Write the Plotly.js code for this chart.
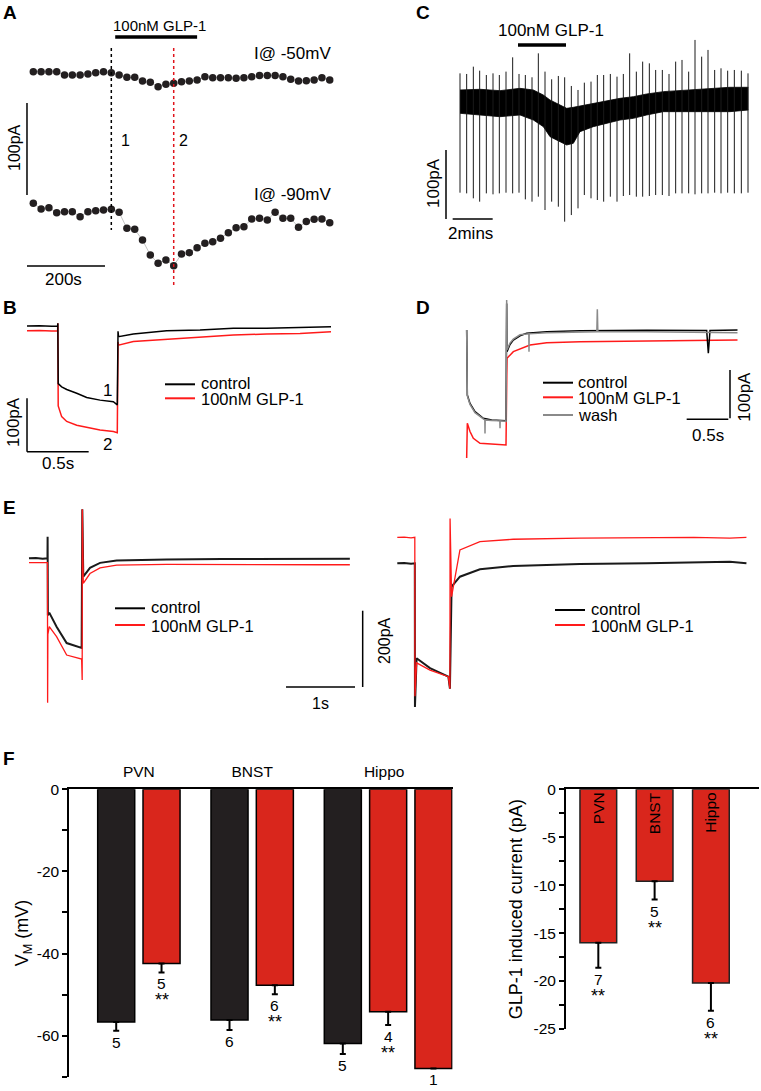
<!DOCTYPE html>
<html>
<head>
<meta charset="utf-8">
<script src="https://cdn.plot.ly/plotly-3.0.1.min.js"></script>
<style>
  html, body { margin: 0; padding: 0; background: #fff; }
  #fig { width: 761px; height: 1091px; }
</style>
</head>
<body>
<div id="fig"></div>
<script>
const W = 761, H = 1091;
const FONT = 'Arial, "Liberation Sans", sans-serif';
const RED = '#ff1a1a';
const DARK = '#231f20';

// A: holding current sampled every 20 s (pA, relative)
const timeA = [0, 20, 40, 60, 80, 100, 120, 140, 160, 180, 200, 220, 240, 260, 280, 300, 320, 340, 360, 380,
    400, 420, 440, 460, 480, 500, 520, 540, 560, 580, 600, 620, 640, 660, 680, 700, 720, 740, 760];
const currentAt50 = [0, 0, 0, 0, -3.6, -3.6, -3.6, -2.5, -1.1, 0, -1.1, -3.6, -6.2, -6.2, -10.1, -11.6, -16.3, -13.8, -12.7, -10.9,
    -10.1, -9.1, -5.4, -6.5, -6.5, -6.5, -7.2, -6.5, -5.4, -4.3, -4.3, -4.3, -5.4, -8.3, -10.1, -9.8, -9.1, -6.5, -9.1];
const currentAt90 = [-143.1, -149.3, -147.8, -153.3, -152.2, -152.2, -157.6, -152.2, -151.1, -150.4, -149.6, -152.9, -170.3, -171.4, -183.0, -199.3, -208.3, -204.7, -210.9, -198.2,
    -196.7, -191.3, -186.6, -184.8, -181.2, -175.0, -169.6, -168.5, -160.1, -159.4, -161.2, -152.9, -159.4, -159.4, -169.2, -163.0, -160.5, -160.1, -164.1];
const drugA = [210, 420];
const markA = [200, 360];

// C: continuous recording (s, pA)
const spikeTime = [0, 20, 40, 59, 79, 99, 118, 138, 158, 177, 196, 216, 235, 255, 275, 295, 314, 334, 354, 373, 393, 412, 431,
    451, 471, 490, 509, 529, 548, 568, 587, 607, 627, 647, 666, 686, 705, 725, 744, 764, 783, 803, 823, 844, 864];
const spikeTop = [38.6, 37.7, 48.3, 42.5, 36.2, 38.6, 36.2, 41.1, 61.8, 37.7, 36.2, 32.9, 67.6, 41.1, 30, 34.8, 32.9, 20.3, 14.5, 25.1, 26.6, 36.2, 36.2,
    37.7, 33.8, 37.7, 67.6, 41.1, 55.6, 53.1, 43.5, 43.5, 37.7, 55.6, 58, 41.1, 87, 62.8, 72.5, 43.5, 45.9, 42.5, 43.5, 42.5, 38.6];
const spikeBottom = [-134.3, -135.3, -142.5, -147.3, -135.3, -136.7, -135.3, -134.3, -135.3, -134.3, -144, -147.3, -140.1, -159.4, -147.3, -154.6, -176.3, -166.7, -157, -137.7, -142.5, -144.9, -147.3,
    -140.1, -147.3, -139.1, -137.7, -140.1, -140.1, -139.1, -137.7, -137.7, -139.1, -135.3, -135.3, -135.3, -136.7, -135.3, -135.3, -134.3, -135.3, -134.3, -135.3, -135.3, -134.3];
const bandTime = [0, 60, 120, 180, 220, 250, 270, 300, 320, 340, 360, 400, 440, 480, 520, 560, 610, 660, 710, 760, 810, 865];
const bandTop = [14.5, 15.5, 13.5, 16.9, 14.5, 7.2, 0, -7.2, -12.1, -10.6, -8.7, -5.8, -1, 2.4, 4.8, 8.7, 12.1, 13.5, 15.5, 16.9, 18.4, 18.4];
const bandBottom = [-19.3, -21.7, -24.2, -21.7, -29, -38.6, -53.1, -60.4, -65.2, -62.8, -45.9, -38.6, -33.8, -29, -26.6, -21.7, -16.9, -16.9, -16.9, -16.9, -16.9, -14.5];
const drugC = [174, 318];

// B: step responses (s, pA)
const timeB = [0, 0.1, 0.2, 0.248, 0.25, 0.253, 0.281, 0.322, 0.403, 0.484, 0.592, 0.7, 0.732, 0.738, 0.742, 0.862, 1.132, 1.403, 1.673, 1.943, 2.214, 2.465];
const controlB = [0, 0.5, -0.5, 0, 5, -108, -114, -119, -126, -134, -139, -142, -148, -10, -20, -15, -8.8, -7.5, -4.4, -4.4, -2.5, -1.3];
const glpB = [-9, -8.5, -9.5, -9, 5, -150, -170, -179, -186, -190, -195, -198, -200, -30, -36, -29, -25, -20, -17, -15, -14, -11];

// D
const timeDc = [0, 0.008, 0.04, 0.1, 0.2, 0.3, 0.472, 0.48, 0.484, 0.52, 0.56, 0.64, 0.72, 0.96, 1.36, 2.16, 2.88, 2.9, 2.92, 3.25];
const controlD = [0, -134.5, -152, -169, -182.8, -186, -187.6, 55, -44.8, -30, -20.7, -12, -6.9, -3.4, -1.4, -0.7, -1, -48, -1, 0];
const timeDw = [0, 0.008, 0.04, 0.1, 0.2, 0.218, 0.22, 0.222, 0.3, 0.398, 0.4, 0.402, 0.472, 0.48, 0.484, 0.52, 0.56, 0.64, 0.72,
    0.746, 0.748, 0.75, 0.96, 1.36, 1.562, 1.568, 1.574, 2.16, 3.25];
const washD = [0, -136, -154, -171, -184, -186, -214, -186, -187, -188, -203, -188, -189, 62, -41, -27, -19, -10, -8,
    -8, -45, -8, -5.5, -3.4, -3.4, 42.8, -3.4, -3.4, -5.5];
const timeDg = [0, 0.008, 0.04, 0.08, 0.16, 0.3, 0.472, 0.484, 0.56, 0.76, 0.96, 1.36, 2.16, 2.9, 3.25];
const glpD = [-265, -193, -210, -224, -234.5, -236, -238, -58.6, -44.8, -31, -26.2, -24.1, -22, -21, -20.7];

// E left
const timeEc = [0, 0.1, 0.2, 0.268, 0.27, 0.274, 0.294, 0.4, 0.546, 0.68, 0.763, 0.773, 0.787, 0.884, 1.03, 1.27, 1.995, 2.8, 3.44, 4.2, 4.65];
const controlE = [0, 1, -1, 0, 56.8, -150, -143, -180, -223, -232, -236, 129, -48.4, -25, -12, -6, -3, -2, -2, -1, -1];
const timeEg = [0, 0.1, 0.2, 0.268, 0.27, 0.274, 0.294, 0.4, 0.546, 0.68, 0.763, 0.771, 0.773, 0.787, 0.884, 1.03, 1.27, 1.995, 2.8, 3.44, 4.2, 4.65];
const glpE = [-11.6, -11, -12, -11.6, -380, -200, -180, -206, -254.5, -262, -265, -320, 129, -65.8, -40, -25, -18, -16, -17, -16, -17, -17];

// E right
const timeRc = [0, 0.1, 0.2, 0.254, 0.256, 0.28, 0.474, 0.74, 0.763, 0.787, 0.908, 1.198, 1.68, 2.647, 3.613, 4.3, 4.82, 5.06];
const controlR = [0, 1, -1, 0, -378, -250, -276, -298.4, -330, -61.6, -35.3, -15.8, -7.1, -2, 0, 3, 4.2, 0];
const timeRg = [0, 0.1, 0.2, 0.254, 0.256, 0.28, 0.474, 0.74, 0.763, 0.765, 0.787, 0.908, 1.198, 1.68, 2.647, 3.613, 4.3, 4.82, 5.06];
const glpR = [68.4, 69, 67, 68.4, -350, -262, -281, -298.4, -330, 118, -87.9, 35, 56.8, 63.2, 66, 67, 68, 66, 68.4];

// F
const regions = ['PVN', 'BNST', 'Hippo'];
const vmControl = [-56.7, -56.2, -61.9];
const vmControlSem = [2.1, 2.4, 2.6];
const vmControlN = ['5', '6', '5'];
const vmGlp = [-42.4, -47.7, -54.2, -68.0];
const vmGlpSem = [2.2, 2.2, 3.2, 0];
const vmGlpN = ['5', '6', '4', '1'];
const vmGlpSig = ['**', '**', '**', ''];
const glpCurrent = [-16.0, -9.6, -20.2];
const glpCurrentSem = [2.6, 1.9, 2.9];
const glpCurrentN = ['7', '5', '6'];
const vmTicks = [0, -20, -40, -60];
const currentTicks = [0, -5, -10, -15, -20, -25];

const fx = (a, b) => [a / W, b / W];
const fy = (top, bottom) => [1 - bottom / H, 1 - top / H];
const hidden = (domain, range, anchor) => ({domain, range, anchor, visible: false, fixedrange: true});

function label(x, y, text, size, extra) {
    return Object.assign({
        xref: 'paper', yref: 'paper', x: x / W, y: 1 - y / H, text, showarrow: false,
        xanchor: 'center', yanchor: 'middle', font: {family: FONT, size, color: '#000'},
    }, extra || {});
}
function sample(x0, x1, y, color) {
    return {type: 'line', xref: 'paper', yref: 'paper', x0: x0 / W, x1: x1 / W, y0: 1 - y / H, y1: 1 - y / H,
        line: {color, width: 2}};
}
function seg(ax, x0, y0, x1, y1, width, color, dash) {
    return {type: 'line', xref: 'x' + ax, yref: 'y' + ax, x0, y0, x1, y1, layer: 'above',
        line: {color: color || '#000', width: width || 1.5, dash: dash || 'solid'}};
}
function trace(ax, x, y, color, width) {
    return {x, y, xaxis: 'x' + ax, yaxis: 'y' + ax, mode: 'lines', line: {color, width: width || 1.5}, hoverinfo: 'skip'};
}

const traces = [];

// A
for (const values of [currentAt50, currentAt90]) {
    traces.push({
        x: timeA, y: values, xaxis: 'x', yaxis: 'y', mode: 'lines+markers',
        line: {color: '#9a9a9a', width: 0.6}, marker: {size: 7.5, color: DARK}, hoverinfo: 'skip',
    });
}

// C
traces.push(trace(2, bandTime, bandTop, '#000', 0.8));
traces.push(Object.assign(trace(2, bandTime, bandBottom, '#000', 0.8), {fill: 'tonexty', fillcolor: '#000'}));
const spikeX = [], spikeY = [];
spikeTime.forEach((t, i) => { spikeX.push(t, t, null); spikeY.push(spikeTop[i], spikeBottom[i], null); });
traces.push(trace(2, spikeX, spikeY, '#1a1a1a', 1));

// B
traces.push(trace(3, timeB, glpB, RED));
traces.push(trace(3, timeB, controlB, '#000'));

// D
traces.push(trace(4, timeDg, glpD, RED));
traces.push(trace(4, timeDc, controlD, '#000'));
traces.push(trace(4, timeDw, washD, '#8a8a8a'));

// E
traces.push(trace(5, timeEc, controlE, '#1a1a1a', 2));
traces.push(trace(5, timeEg, glpE, RED, 1.3));
traces.push(trace(6, timeRc, controlR, '#1a1a1a', 2));
traces.push(trace(6, timeRg, glpR, RED, 1.3));

// F left
const errStyle = (minus) => ({type: 'data', symmetric: false, array: minus.map(() => 0), arrayminus: minus,
    color: '#000', thickness: 2, width: 3});
const vmControlX = vmControl.map((_, i) => i - 0.2);
const vmGlpX = vmGlp.map((_, i) => i < 3 ? i + 0.2 : 2.6);
traces.push({
    type: 'bar', x: vmControlX, y: vmControl, width: 0.327, xaxis: 'x7', yaxis: 'y7',
    marker: {color: DARK, line: {color: '#000', width: 1.5}}, error_y: errStyle(vmControlSem), hoverinfo: 'skip',
});
traces.push({
    type: 'bar', x: vmGlpX, y: vmGlp, width: 0.327, xaxis: 'x7', yaxis: 'y7',
    marker: {color: '#d9261c', line: {color: '#000', width: 1.5}}, error_y: errStyle(vmGlpSem), hoverinfo: 'skip',
});
// F right
traces.push({
    type: 'bar', x: glpCurrent.map((_, i) => i), y: glpCurrent, width: 0.652, xaxis: 'x8', yaxis: 'y8',
    marker: {color: '#d9261c', line: {color: '#222', width: 1.5}}, error_y: errStyle(glpCurrentSem),
    text: regions, textposition: 'inside', insidetextanchor: 'start', textangle: -90,
    textfont: {family: FONT, size: 15.5, color: '#000'}, hoverinfo: 'skip',
});

const annotations = [
    label(10, 12, '<b>A</b>', 19), label(423, 12, '<b>C</b>', 19), label(10, 307, '<b>B</b>', 19),
    label(423, 307, '<b>D</b>', 19), label(9, 508, '<b>E</b>', 19), label(9, 758, '<b>F</b>', 19),
    // A
    label(159.5, 25, '100nM GLP-1', 15), label(333, 54, 'I@ -50mV', 17, {xanchor: 'right'}),
    label(333, 194, 'I@ -90mV', 17, {xanchor: 'right'}), label(125, 140, '1', 16), label(183.3, 140, '2', 16),
    label(15, 148, '100pA', 16, {textangle: -90}), label(63.3, 279, '200s', 17),
    // C
    label(551, 31, '100nM GLP-1', 17), label(433, 183, '100pA', 17, {textangle: -90}), label(471, 234, '2mins', 17),
    // B
    label(107.3, 390.7, '1', 17), label(107.3, 444, '2', 17),
    label(199, 383, 'control', 16.5, {xanchor: 'left'}), label(199, 398.5, '100nM GLP-1', 16.5, {xanchor: 'left'}),
    label(58.3, 463.3, '0.5s', 17), label(13.3, 421.7, '100pA', 17, {textangle: -90}),
    // D
    label(576, 382, 'control', 16.5, {xanchor: 'left'}), label(576, 397.5, '100nM GLP-1', 16.5, {xanchor: 'left'}),
    label(576, 415, 'wash', 16.5, {xanchor: 'left'}),
    label(708, 435, '0.5s', 17), label(745, 396.7, '100pA', 17, {textangle: -90}),
    // E
    label(149, 607.5, 'control', 16.5, {xanchor: 'left'}), label(149, 625.5, '100nM GLP-1', 16.5, {xanchor: 'left'}),
    label(589, 609, 'control', 16.5, {xanchor: 'left'}), label(589, 625.5, '100nM GLP-1', 16.5, {xanchor: 'left'}),
    label(320, 703.7, '1s', 16), label(384, 640, '200pA', 16, {textangle: -90}),
];

function nLabels(ax, xs, ys, sems, ns, sigs) {
    xs.forEach((x, i) => {
        const y = ys[i] - sems[i];
        annotations.push({xref: 'x' + ax, yref: 'y' + ax, x, y, text: ns[i], showarrow: false,
            xanchor: 'center', yanchor: 'top', yshift: -1, font: {family: FONT, size: 15.5, color: '#000'}});
        if (sigs[i]) {
            annotations.push({xref: 'x' + ax, yref: 'y' + ax, x, y, text: sigs[i], showarrow: false,
                xanchor: 'center', yanchor: 'top', yshift: -16, font: {family: FONT, size: 18, color: '#000'}});
        }
    });
}
nLabels(7, vmControlX, vmControl, vmControlSem, vmControlN, ['', '', '']);
nLabels(7, vmGlpX, vmGlp, vmGlpSem, vmGlpN, vmGlpSig);
nLabels(8, glpCurrent.map((_, i) => i), glpCurrent, glpCurrentSem, glpCurrentN, ['**', '**', '**']);

const shapes = [
    // A
    seg('', -16.2, -34.1, -16.2, -134.1), seg('', -16.2, -211.2, 183.8, -211.2),
    seg('', drugA[0], 37.7, drugA[1], 37.7, 3.5),
    seg('', markA[0], 25.7, markA[0], -172.1, 1.5, '#000', 'dot'),
    seg('', markA[1], 25.7, markA[1], -235.1, 1.5, '#e0141c', 'dot'),
    // C
    seg(2, -42, -72.5, -42, -172.5), seg(2, -22, -172.5, 98, -172.5), seg(2, drugC[0], 79.7, drugC[1], 79.7, 3.5),
    // B
    seg(3, 0, -135.6, 0, -235.7), seg(3, 0, -235.7, 0.5, -235.7),
    sample(165, 195, 384.3, '#000'), sample(165, 195, 398.3, RED),
    // D
    seg(4, 3.16, -82.8, 3.16, -182.8), seg(4, 2.64, -184.8, 3.14, -184.8),
    sample(543, 573, 382.7, '#000'), sample(543, 573, 397.3, RED), sample(543, 573, 415, '#8a8a8a'),
    // E
    seg(5, 3.725, -338.7, 4.725, -338.7), seg(5, 4.836, -137.9, 4.836, -338.7),
    sample(115, 145, 608.3, '#000'), sample(115, 145, 625, RED),
    sample(555, 585, 610, '#000'), sample(555, 585, 625, RED),
];

const fAxisY = (domain, range, ticks, minorStep, title, anchor, standoff) => ({
    domain, range, anchor, showline: true, linecolor: '#000', linewidth: 2,
    ticks: 'outside', ticklen: 5, tickwidth: 2, tickcolor: '#000',
    tickmode: 'array', tickvals: ticks, ticktext: ticks.map(String),
    minor: {tickmode: 'linear', tick0: 0, dtick: minorStep, ticks: 'outside', ticklen: 5, tickwidth: 2, tickcolor: '#000', showgrid: false},
    showgrid: false, zeroline: false, fixedrange: true,
    tickfont: {family: FONT, size: 15.5, color: '#000'},
    title: {text: title, font: {family: FONT, size: 18, color: '#000'}, standoff},
});

const layout = {
    width: W, height: H, margin: {l: 0, r: 0, t: 0, b: 0}, showlegend: false,
    paper_bgcolor: '#fff', plot_bgcolor: 'rgba(0,0,0,0)', barmode: 'overlay',
    font: {family: FONT, color: '#000'},
    xaxis: hidden(fx(0, 350), [-85.4, 812], 'y'),
    yaxis: hidden(fy(20, 292), [-239.5, 56.16], 'x'),
    xaxis2: hidden(fx(415, 761), [-135, 903], 'y2'),
    yaxis2: hidden(fy(20, 245), [-210.1, 115.9], 'x2'),
    xaxis3: hidden(fx(0, 350), [-0.219, 2.619], 'y3'),
    yaxis3: hidden(fy(295, 475), [-279.4, 58.1], 'x3'),
    xaxis4: hidden(fx(400, 761), [-0.8, 3.532], 'y4'),
    yaxis4: hidden(fy(295, 475), [-300, 72.4], 'x4'),
    xaxis5: hidden(fx(0, 380), [-0.42, 5.087], 'y5'),
    yaxis5: hidden(fy(495, 720), [-425.5, 166.6], 'x5'),
    xaxis6: hidden(fx(385, 761), [-0.178, 5.271], 'y6'),
    yaxis6: hidden(fy(495, 720), [-412.4, 179.7], 'x6'),
    xaxis7: {
        domain: fx(69.3, 452.5), range: [-0.614, 2.768], anchor: 'y7', side: 'top', showline: true,
        linecolor: '#000', linewidth: 2, ticks: '', tickvals: [0, 1, 2.165], ticktext: regions,
        tickfont: {family: FONT, size: 15.5, color: '#000'}, ticklabelstandoff: 4,
        showgrid: false, zeroline: false, fixedrange: true,
    },
    yaxis7: fAxisY(fy(789.3, 1076.7), [-70, 0], vmTicks, 10, 'V<sub>M</sub> (mV)', 'x7', 3),
    xaxis8: {
        domain: fx(566, 759), range: [-0.574, 2.854], anchor: 'y8', side: 'top', showline: true,
        linecolor: '#000', linewidth: 2, ticks: '', showticklabels: false,
        showgrid: false, zeroline: false, fixedrange: true,
    },
    yaxis8: fAxisY(fy(789.3, 1029), [-25, 0], currentTicks, 2.5, 'GLP-1 induced current (pA)', 'x8', 6),
    annotations, shapes,
};

Plotly.newPlot('fig', traces, layout, {displayModeBar: false, staticPlot: true});
</script>
</body>
</html>
